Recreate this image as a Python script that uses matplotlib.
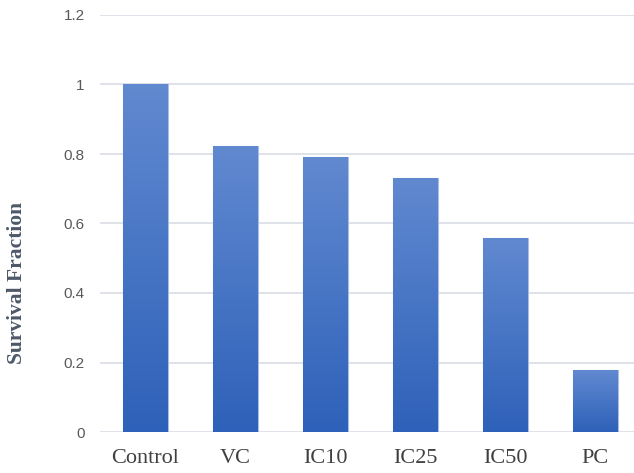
import numpy as np
import matplotlib
matplotlib.use("Agg")
import matplotlib.pyplot as plt
from matplotlib.colors import LinearSegmentedColormap

# Data
groups = ["Control", "VC", "IC10", "IC25", "IC50", "PC"]
survival = [1.0, 0.823, 0.791, 0.731, 0.558, 0.178]
yticks = [0, 0.2, 0.4, 0.6, 0.8, 1, 1.2]
ytick_labels = ["0", "0.2", "0.4", "0.6", "0.8", "1", "1.2"]

fig = plt.figure(figsize=(6.34, 4.73), dpi=100)
# axes box in pixels: left 100, bottom y=432, top y=15, right ~640
ax = fig.add_axes([100 / 634, (473 - 432) / 473, 540 / 634, (432 - 15) / 473])

x = np.arange(len(groups))
bars = ax.bar(x, survival, width=0.5, color="#4a76c8", edgecolor="#a9bfe6",
              linewidth=0.8, zorder=2)

# vertical gradient fill, lighter at the top of each bar
cmap = LinearSegmentedColormap.from_list("barblue", ["#2e61b9", "#6189d0"])
grad = np.linspace(0, 1, 256).reshape(-1, 1)
for b in bars:
    x0, w, h = b.get_x(), b.get_width(), b.get_height()
    im = ax.imshow(grad, cmap=cmap, origin="lower", aspect="auto",
                   extent=[x0, x0 + w, 0, h], zorder=2.5)
    im.set_clip_path(b)

ax.set_xlim(-0.5, len(groups) - 0.5)
ax.set_ylim(0, 1.2)
ax.set_yticks(yticks)
ax.set_yticklabels(ytick_labels, family="Liberation Sans", fontsize=11,
                   color="#595959")
ax.set_xticks(x)
ax.set_xticklabels(groups, family="Liberation Serif", fontsize=16,
                   color="#404040")
ax.tick_params(axis="both", length=0)
ax.tick_params(axis="y", pad=11)
ax.tick_params(axis="x", pad=12)
ax.yaxis.grid(True, color="#dcdfe6", linewidth=1.3, zorder=0)
ax.set_axisbelow(True)
for s in ax.spines.values():
    s.set_visible(False)

fig.text(17 / 634, 1 - 283 / 473, "Survival Fraction", rotation=90,
         family="Liberation Serif", fontweight="bold", fontsize=15.5,
         color="#4d5868", ha="center", va="center")

fig.savefig("out.png", dpi=100)
